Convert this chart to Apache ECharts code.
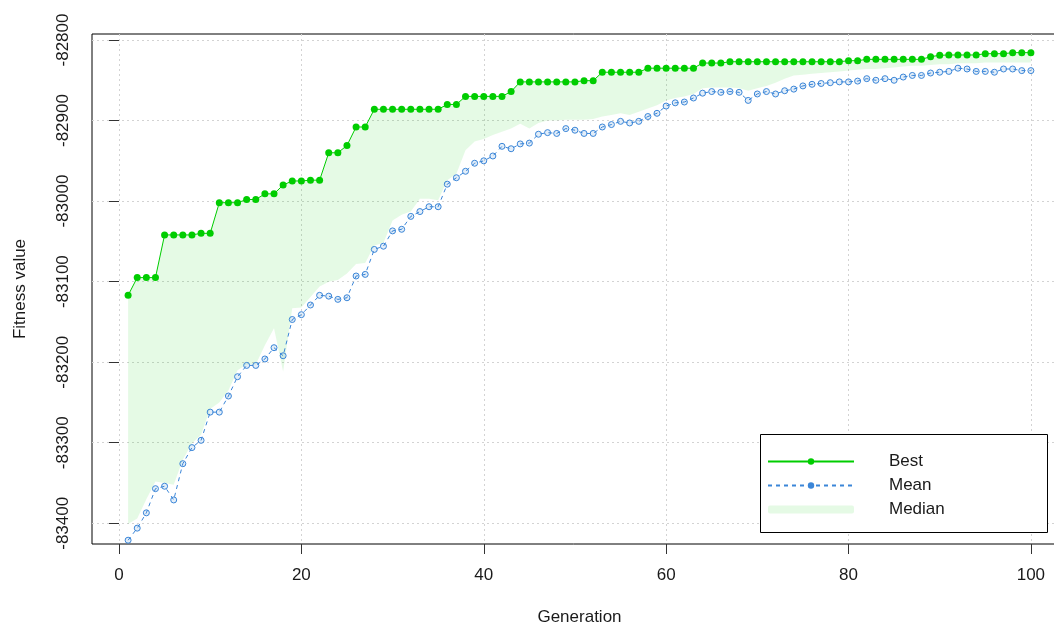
<!DOCTYPE html>
<html>
<head>
<meta charset="utf-8">
<script src="https://cdn.jsdelivr.net/npm/echarts@6/dist/echarts.min.js"></script>
<style>
html,body{margin:0;padding:0;background:#fff;}
#chart{width:1054px;height:628px;}
</style>
</head>
<body>
<div id="chart"></div>
<script>
const generations = [1,2,3,4,5,6,7,8,9,10,11,12,13,14,15,16,17,18,19,20,
21,22,23,24,25,26,27,28,29,30,31,32,33,34,35,36,37,38,39,40,
41,42,43,44,45,46,47,48,49,50,51,52,53,54,55,56,57,58,59,60,
61,62,63,64,65,66,67,68,69,70,71,72,73,74,75,76,77,78,79,80,
81,82,83,84,85,86,87,88,89,90,91,92,93,94,95,96,97,98,99,100];

const best = [
-83117,-83095,-83095,-83095,-83042,-83042,-83042,-83042,-83040,-83040,
-83002,-83002,-83002,-82998,-82998,-82991,-82991,-82980,-82975,-82975,
-82974,-82974,-82940,-82940,-82931,-82908,-82908,-82886,-82886,-82886,
-82886,-82886,-82886,-82886,-82886,-82880,-82880,-82870,-82870,-82870,
-82870,-82870,-82864,-82852,-82852,-82852,-82852,-82852,-82852,-82852,
-82850.5,-82850.5,-82840,-82840,-82840,-82840,-82840,-82835,-82835,-82835,
-82835,-82835,-82835,-82828.6,-82828.6,-82828.6,-82827,-82827,-82827,-82827,
-82827,-82827,-82827,-82827,-82827,-82827,-82827,-82827,-82827,-82825.7,
-82825.7,-82824,-82824,-82824,-82824,-82824,-82824,-82824,-82820.7,-82819,
-82818.6,-82818.6,-82818.6,-82818.6,-82817,-82817,-82817,-82815.7,-82815.7,-82815.7];

const mean = [
-83421,-83406,-83387,-83357,-83354,-83371,-83326,-83306,-83297,-83262,
-83262,-83242,-83218,-83204,-83204,-83196,-83182,-83192,-83147,-83141,
-83129,-83117,-83118,-83122,-83120,-83093,-83091,-83060,-83056,-83037,
-83035,-83019,-83013,-83007,-83007,-82979,-82971,-82963,-82953,-82950,
-82944,-82932,-82935,-82929,-82928,-82917,-82915,-82916,-82910,-82912,
-82916,-82916,-82908,-82905,-82901,-82903,-82901,-82895,-82891,-82882,
-82878,-82877,-82872,-82866,-82864,-82865,-82864,-82865,-82875,-82867,
-82864,-82867,-82863,-82861,-82857,-82855,-82854,-82853,-82852,-82852,
-82851,-82848,-82850,-82848,-82850,-82846,-82844,-82844,-82841,-82840,
-82839,-82835,-82836,-82839,-82839,-82840,-82836,-82836,-82838,-82838];

const median = [
-83401,-83394,-83370,-83348,-83350,-83352,-83321,-83301,-83290,-83258,
-83250,-83235,-83210,-83203,-83203,-83179,-83158,-83212,-83133,-83132,
-83119,-83106,-83100,-83098,-83090,-83078,-83077,-83055,-83052,-83024,
-83017,-83013,-82997,-82997,-82999,-82974,-82966,-82937,-82926,-82923,
-82918,-82914,-82910,-82904,-82910,-82903,-82900,-82900,-82899,-82899,
-82899,-82898,-82895,-82893,-82891,-82893,-82889,-82885,-82881,-82875,
-82872,-82870,-82867,-82860,-82859,-82859,-82859,-82860,-82863,-82860,
-82857,-82853,-82848,-82844,-82843,-82842,-82841,-82840,-82839,-82838,
-82837,-82836,-82836,-82835,-82834,-82833,-82832,-82832,-82831,-82830,
-82830,-82829,-82829,-82829,-82828,-82828,-82828,-82828,-82828,-82828];

const xTicks = [0, 20, 40, 60, 80, 100];
const yTicks = [-83400, -83300, -83200, -83100, -83000, -82900, -82800];
const legendNames = ['Best', 'Mean', 'Median'];

const FONT = '"Liberation Sans", Arial, sans-serif';
const GREEN = '#00CD00';
const GRIDCOL = '#D3D3D3';

const chart = echarts.init(document.getElementById('chart'), null, {renderer: 'canvas'});

const option = {
  backgroundColor: '#ffffff',
  animation: false,
  textStyle: {fontFamily: FONT},
  grid: {
    left: 92, top: 34, width: 975, height: 510,
    show: true, borderColor: '#000', borderWidth: 1, backgroundColor: 'transparent',
    containLabel: false, outerBoundsMode: 'none'
  },
  xAxis: {
    type: 'value', min: -2.96, max: 103.96,
    name: 'Generation', nameLocation: 'middle', nameGap: 65,
    nameTextStyle: {fontSize: 17, color: '#1a1a1a', fontFamily: FONT},
    axisLine: {show: false},
    axisTick: {show: true, length: 10, customValues: xTicks, lineStyle: {color: '#333', width: 1}},
    axisLabel: {customValues: xTicks, fontSize: 17, color: '#1a1a1a', margin: 23, fontFamily: FONT,
      formatter: v => String(v)},
    splitLine: {show: true, lineStyle: {color: GRIDCOL, type: [2, 3], width: 1}}
  },
  yAxis: {
    type: 'value', min: -83425.7, max: -82792.55,
    name: 'Fitness value', nameLocation: 'middle', nameGap: 63,
    nameTextStyle: {fontSize: 17, color: '#1a1a1a', fontFamily: FONT},
    axisLine: {show: false},
    axisTick: {show: true, length: 10, customValues: yTicks, lineStyle: {color: '#333', width: 1}},
    axisLabel: {customValues: yTicks, rotate: 90, fontSize: 17, color: '#1a1a1a', margin: 20, fontFamily: FONT,
      formatter: v => String(v)},
    splitLine: {show: true, lineStyle: {color: GRIDCOL, type: [2, 3], width: 1}}
  },
  legend: {
    orient: 'vertical', left: 762, top: 448, itemWidth: 86, itemHeight: 8, itemGap: 7,
    z: 20,
    textStyle: {fontSize: 17, color: '#1a1a1a', fontFamily: FONT, lineHeight: 16, padding: [0, 0, 0, 30]},
    data: [
      {name: legendNames[0]},
      {name: legendNames[1], itemStyle: {color: '#3b86d8', borderWidth: 0}},
      {name: legendNames[2], icon: 'roundRect', itemStyle: {color: 'rgba(0,205,0,0.1)'}}
    ]
  },
  graphic: [{
    type: 'rect', z: 10, silent: true,
    shape: {x: 760.5, y: 434.5, width: 287, height: 98},
    style: {fill: '#fff', stroke: '#000', lineWidth: 1}
  }],
  series: [
    {
      name: legendNames[2], type: 'custom', z: 1,
      data: generations.map((g, i) => [g, median[i], best[i]]),
      renderItem: function (params, api) {
        if (params.dataIndex !== 0) return null;
        const pts = [];
        for (let i = 0; i < generations.length; i++) pts.push(api.coord([generations[i], median[i]]));
        for (let i = generations.length - 1; i >= 0; i--) pts.push(api.coord([generations[i], best[i]]));
        return {type: 'polygon', shape: {points: pts}, style: {fill: 'rgba(0,205,0,0.1)', stroke: null}};
      },
      itemStyle: {color: 'rgba(0,205,0,0.1)'}
    },
    {
      name: legendNames[1], type: 'line', z: 3,
      data: generations.map((g, i) => [g, mean[i]]),
      symbol: 'circle', symbolSize: 6,
      itemStyle: {color: 'rgba(24,116,205,0.12)', borderColor: '#3b86d8', borderWidth: 1},
      lineStyle: {color: '#3b86d8', width: 1, type: [4, 4]}
    },
    {
      name: legendNames[0], type: 'line', z: 4,
      data: generations.map((g, i) => [g, best[i]]),
      symbol: 'circle', symbolSize: 7,
      itemStyle: {color: GREEN},
      lineStyle: {color: GREEN, width: 1}
    }
  ]
};
chart.setOption(option);
</script>
</body>
</html>
